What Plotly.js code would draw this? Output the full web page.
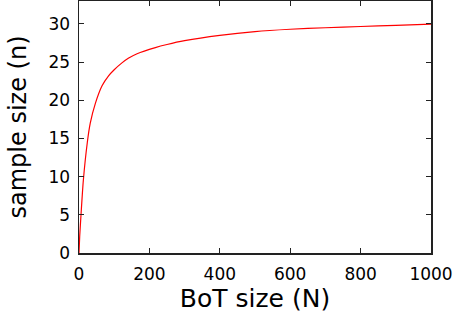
<!DOCTYPE html>
<html>
<head>
<meta charset="utf-8">
<script src="https://cdn.plot.ly/plotly-3.0.1.min.js"></script>
<style>html,body{margin:0;padding:0;background:#fff;}#chart{width:454px;height:320px;}</style>
</head>
<body>
<div id="chart"></div>
<script>
// BoT size (N) and the sample size (n)
const botSize = [0, 2, 5.7, 12.3, 23.7, 32, 46.5, 65.5, 84, 100, 122, 140, 165, 217, 250, 300, 400, 500, 600, 700, 800, 900, 1000];
const sampleSize = [0, 2.2, 5, 9.5, 14.5, 17, 19.6, 21.9, 23.2, 24.0, 24.9, 25.5, 26.1, 26.9, 27.3, 27.8, 28.5, 29.0, 29.3, 29.5, 29.66, 29.82, 29.97];
const xTicks = [0, 200, 400, 600, 800, 1000];
const yTicks = [0, 5, 10, 15, 20, 25, 30];

const font = "DejaVu Sans, sans-serif";
const axisCommon = {
  showline: true, linecolor: '#222', linewidth: 1.5, mirror: 'allticks',
  ticks: 'inside', ticklen: 5, tickwidth: 1, tickcolor: '#222',
  showgrid: false, zeroline: false,
  tickfont: {family: font, size: 17, color: '#000'},
  automargin: false
};
const layout = {
  width: 454, height: 320,
  margin: {l: 79, r: 23, t: 1, b: 67},
  paper_bgcolor: '#fff', plot_bgcolor: '#fff',
  showlegend: false,
  xaxis: Object.assign({}, axisCommon, {
    range: [0, 1000], tickvals: xTicks, ticktext: xTicks.map(String),
    ticklabelstandoff: 5,
    title: {text: 'BoT size (N)', font: {family: font, size: 25, color: '#000'}, standoff: 4}
  }),
  yaxis: Object.assign({}, axisCommon, {
    range: [0, 33], tickvals: yTicks, ticktext: yTicks.map(String),
    ticklabelstandoff: 4,
    title: {text: 'sample size (n)', font: {family: font, size: 24, color: '#000'}, standoff: 15}
  })
};
const data = [{
  x: botSize, y: sampleSize, type: 'scatter', mode: 'lines',
  line: {color: '#ff0000', width: 1.2, shape: 'spline', smoothing: 0.7}
}];
Plotly.newPlot('chart', data, layout, {staticPlot: true, displayModeBar: false});
</script>
</body>
</html>
